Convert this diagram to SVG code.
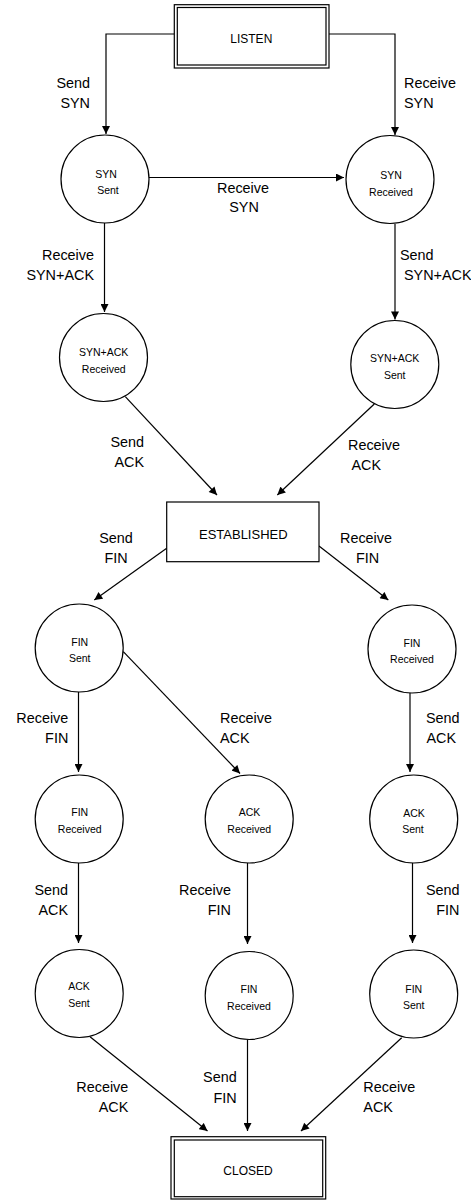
<svg xmlns="http://www.w3.org/2000/svg" width="471" height="1200" viewBox="0 0 471 1200">
<style>
.bg{fill:#fff}
.box{fill:#fff;stroke:#000;stroke-width:1.2}
.st{fill:#fff;stroke:#000;stroke-width:1.2}
.edge{fill:none;stroke:#000;stroke-width:1.2;marker-end:url(#arr)}
.nt{font-family:"Liberation Sans",Arial,sans-serif;font-size:10.5px;fill:#000;text-anchor:middle}
.bt{font-family:"Liberation Sans",Arial,sans-serif;font-size:12px;fill:#000;text-anchor:middle}
.lb{font-family:"Liberation Sans",Arial,sans-serif;font-size:14.4px;fill:#000}
.r{text-anchor:end}
.m{text-anchor:middle}
</style>
<defs>
<marker id="arr" viewBox="0 0 10 10" refX="10" refY="5" markerWidth="9" markerHeight="8" markerUnits="userSpaceOnUse" orient="auto">
<path d="M0,0 L10,5 L0,10 z" fill="#000"/>
</marker>
</defs>
<rect class="bg" x="0" y="0" width="471" height="1200"/>

<g id="connectors">
<path class="edge" d="M174.3,34 H106 V134"/>
<path class="edge" d="M329,34 H395 V135"/>
<path class="edge" d="M149,177.5 H344"/>
<path class="edge" d="M104.5,223 V312"/>
<path class="edge" d="M395,224 V319.5"/>
<path class="edge" d="M125.3,396.7 L217,495"/>
<path class="edge" d="M374.3,404 L277.3,495"/>
<path class="edge" d="M166.7,548.3 L94.3,600"/>
<path class="edge" d="M319,546 L388.3,600"/>
<path class="edge" d="M78.5,692 V772"/>
<path class="edge" d="M123.3,651.7 L240,773.5"/>
<path class="edge" d="M410,693 V772"/>
<path class="edge" d="M78.5,863 V943"/>
<path class="edge" d="M247.5,863 V944"/>
<path class="edge" d="M412.5,863 V943"/>
<path class="edge" d="M90,1036.7 L207.5,1131"/>
<path class="edge" d="M247.5,1039.5 V1131"/>
<path class="edge" d="M401.7,1037.7 L301,1131"/>
</g>

<g id="edge-labels">
<text class="lb r" x="90" y="88">Send</text>
<text class="lb r" x="90" y="108">SYN</text>
<text class="lb" x="404" y="88">Receive</text>
<text class="lb" x="404" y="108">SYN</text>
<text class="lb m" x="243" y="192.5">Receive</text>
<text class="lb m" x="244" y="211.5">SYN</text>
<text class="lb r" x="94" y="260">Receive</text>
<text class="lb r" x="94" y="280">SYN+ACK</text>
<text class="lb" x="400" y="260">Send</text>
<text class="lb" x="404" y="280">SYN+ACK</text>
<text class="lb r" x="144" y="447">Send</text>
<text class="lb r" x="144" y="466.5">ACK</text>
<text class="lb" x="348" y="450">Receive</text>
<text class="lb" x="351.5" y="469.5">ACK</text>
<text class="lb m" x="116" y="543">Send</text>
<text class="lb m" x="116" y="562.5">FIN</text>
<text class="lb m" x="366" y="543">Receive</text>
<text class="lb m" x="367.5" y="562.5">FIN</text>
<text class="lb r" x="68.3" y="723">Receive</text>
<text class="lb r" x="68.3" y="742.5">FIN</text>
<text class="lb" x="220" y="723">Receive</text>
<text class="lb" x="220" y="742.5">ACK</text>
<text class="lb" x="426" y="723">Send</text>
<text class="lb" x="426.5" y="742.5">ACK</text>
<text class="lb r" x="68" y="895">Send</text>
<text class="lb r" x="68" y="915">ACK</text>
<text class="lb r" x="231" y="895">Receive</text>
<text class="lb r" x="231" y="915">FIN</text>
<text class="lb r" x="459.5" y="895">Send</text>
<text class="lb r" x="459.5" y="915">FIN</text>
<text class="lb r" x="128.3" y="1091.5">Receive</text>
<text class="lb r" x="128.3" y="1111.5">ACK</text>
<text class="lb r" x="236.7" y="1082">Send</text>
<text class="lb r" x="236.7" y="1102.5">FIN</text>
<text class="lb" x="363.3" y="1091.5">Receive</text>
<text class="lb" x="363.3" y="1111.5">ACK</text>
</g>

<g id="listen">
<rect class="box" x="174.3" y="4.7" width="154.7" height="63.3"/>
<rect class="box" x="177.3" y="7.5" width="148.7" height="57.5"/>
<text class="bt" x="251.3" y="43">LISTEN</text>
</g>

<g id="syn-sent">
<circle class="st" cx="105" cy="179" r="44"/>
<text class="nt" x="106" y="178">SYN</text>
<text class="nt" x="108" y="194">Sent</text>
</g>

<g id="syn-received">
<circle class="st" cx="390" cy="179.5" r="44"/>
<text class="nt" x="391" y="179">SYN</text>
<text class="nt" x="391" y="195.5">Received</text>
</g>

<g id="synack-received">
<circle class="st" cx="103.5" cy="357.5" r="44"/>
<text class="nt" x="103.7" y="355.5">SYN+ACK</text>
<text class="nt" x="103.7" y="372.5">Received</text>
</g>

<g id="synack-sent">
<circle class="st" cx="394.8" cy="364.5" r="44"/>
<text class="nt" x="394.7" y="362">SYN+ACK</text>
<text class="nt" x="394.7" y="379">Sent</text>
</g>

<g id="established">
<rect class="box" x="166.7" y="502" width="152.3" height="59.7"/>
<text class="bt" x="243.3" y="539" style="font-size:13px">ESTABLISHED</text>
</g>

<g id="fin-sent-1">
<circle class="st" cx="79.2" cy="648" r="44"/>
<text class="nt" x="79.7" y="645.5">FIN</text>
<text class="nt" x="79.7" y="661.5">Sent</text>
</g>

<g id="fin-received-1">
<circle class="st" cx="412" cy="649" r="44"/>
<text class="nt" x="412" y="646.5">FIN</text>
<text class="nt" x="412" y="663">Received</text>
</g>

<g id="fin-received-2">
<circle class="st" cx="79.2" cy="819" r="44"/>
<text class="nt" x="79.7" y="816">FIN</text>
<text class="nt" x="79.7" y="832.5">Received</text>
</g>

<g id="ack-received">
<circle class="st" cx="249.2" cy="819" r="44"/>
<text class="nt" x="249.5" y="816">ACK</text>
<text class="nt" x="249.2" y="833">Received</text>
</g>

<g id="ack-sent-1">
<circle class="st" cx="413.7" cy="819" r="44"/>
<text class="nt" x="414" y="816.5">ACK</text>
<text class="nt" x="413" y="833">Sent</text>
</g>

<g id="ack-sent-2">
<circle class="st" cx="79.2" cy="993.5" r="44"/>
<text class="nt" x="79" y="990">ACK</text>
<text class="nt" x="79" y="1006.5">Sent</text>
</g>

<g id="fin-received-3">
<circle class="st" cx="249.2" cy="995.5" r="44"/>
<text class="nt" x="249" y="992.5">FIN</text>
<text class="nt" x="249" y="1010">Received</text>
</g>

<g id="fin-sent-2">
<circle class="st" cx="413.7" cy="994" r="44"/>
<text class="nt" x="413.7" y="992.5">FIN</text>
<text class="nt" x="413.7" y="1009">Sent</text>
</g>

<g id="closed">
<rect class="box" x="171" y="1136.7" width="154.7" height="62.3"/>
<rect class="box" x="174.3" y="1140" width="148.4" height="56.7"/>
<text class="bt" x="248" y="1175">CLOSED</text>
</g>
</svg>
